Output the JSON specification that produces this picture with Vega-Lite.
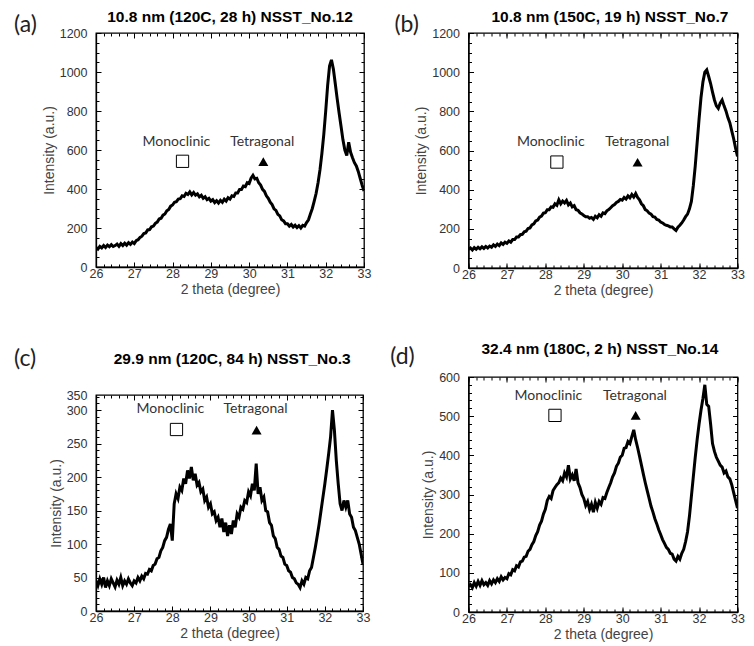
{
"$schema": "https://vega.github.io/schema/vega-lite/v6.json",
"background": "white",
"padding": {"left": 13, "top": 9, "right": 5, "bottom": 0},
"config": {
  "view": {"stroke": "black", "strokeWidth": 1.3},
  "axis": {"grid": false, "labelFlush": false, "domainColor": "black", "domainWidth": 1.3, "tickColor": "black", "tickWidth": 1, "labelFont": "Liberation Sans", "labelFontSize": 12.5, "labelColor": "#333", "titleFont": "Liberation Sans", "titleFontSize": 14, "titleFontWeight": "normal", "titleColor": "#444"}
},
"datasets": {
"a": [
{"t":26.00,"i":100},{"t":26.05,"i":92},{"t":26.10,"i":106},{"t":26.15,"i":98},{"t":26.20,"i":110},{"t":26.25,"i":100},{"t":26.30,"i":112},{"t":26.35,"i":104},{"t":26.40,"i":115},{"t":26.45,"i":105},
{"t":26.50,"i":110},{"t":26.55,"i":118},{"t":26.60,"i":106},{"t":26.65,"i":120},{"t":26.70,"i":110},{"t":26.75,"i":122},{"t":26.80,"i":112},{"t":26.85,"i":125},{"t":26.90,"i":116},{"t":26.95,"i":128},
{"t":27.00,"i":120},{"t":27.05,"i":135},{"t":27.10,"i":140},{"t":27.15,"i":152},{"t":27.20,"i":158},{"t":27.25,"i":172},{"t":27.30,"i":175},{"t":27.35,"i":190},{"t":27.40,"i":192},{"t":27.45,"i":206},
{"t":27.50,"i":210},{"t":27.55,"i":224},{"t":27.60,"i":230},{"t":27.65,"i":246},{"t":27.70,"i":250},{"t":27.75,"i":266},{"t":27.80,"i":272},{"t":27.85,"i":288},{"t":27.90,"i":295},{"t":27.95,"i":312},
{"t":28.00,"i":318},{"t":28.05,"i":332},{"t":28.10,"i":335},{"t":28.15,"i":348},{"t":28.20,"i":350},{"t":28.25,"i":365},{"t":28.30,"i":362},{"t":28.35,"i":378},{"t":28.40,"i":372},{"t":28.45,"i":385},
{"t":28.50,"i":370},{"t":28.55,"i":382},{"t":28.60,"i":368},{"t":28.65,"i":375},{"t":28.70,"i":360},{"t":28.75,"i":368},{"t":28.80,"i":352},{"t":28.85,"i":360},{"t":28.90,"i":345},{"t":28.95,"i":352},
{"t":29.00,"i":338},{"t":29.05,"i":345},{"t":29.10,"i":330},{"t":29.15,"i":340},{"t":29.20,"i":328},{"t":29.25,"i":342},{"t":29.30,"i":332},{"t":29.35,"i":348},{"t":29.40,"i":338},{"t":29.45,"i":355},
{"t":29.50,"i":348},{"t":29.55,"i":365},{"t":29.60,"i":362},{"t":29.65,"i":380},{"t":29.70,"i":380},{"t":29.75,"i":398},{"t":29.80,"i":398},{"t":29.85,"i":415},{"t":29.90,"i":412},{"t":29.95,"i":432},
{"t":30.00,"i":428},{"t":30.05,"i":455},{"t":30.10,"i":470},{"t":30.15,"i":452},{"t":30.20,"i":455},{"t":30.25,"i":432},{"t":30.30,"i":420},{"t":30.35,"i":398},{"t":30.40,"i":388},{"t":30.45,"i":365},
{"t":30.50,"i":352},{"t":30.55,"i":332},{"t":30.60,"i":320},{"t":30.65,"i":298},{"t":30.70,"i":290},{"t":30.75,"i":270},{"t":30.80,"i":262},{"t":30.85,"i":242},{"t":30.90,"i":236},{"t":30.95,"i":222},
{"t":31.00,"i":222},{"t":31.05,"i":210},{"t":31.10,"i":218},{"t":31.15,"i":205},{"t":31.20,"i":214},{"t":31.25,"i":202},{"t":31.30,"i":212},{"t":31.35,"i":200},{"t":31.40,"i":214},{"t":31.45,"i":210},
{"t":31.50,"i":228},{"t":31.55,"i":242},{"t":31.60,"i":272},{"t":31.65,"i":300},{"t":31.70,"i":338},{"t":31.75,"i":378},{"t":31.80,"i":432},{"t":31.85,"i":498},{"t":31.90,"i":582},{"t":31.95,"i":680},
{"t":32.00,"i":800},{"t":32.05,"i":930},{"t":32.10,"i":1030},{"t":32.15,"i":1062},{"t":32.20,"i":1015},{"t":32.25,"i":940},{"t":32.30,"i":862},{"t":32.35,"i":790},{"t":32.40,"i":722},{"t":32.45,"i":652},
{"t":32.50,"i":600},{"t":32.55,"i":572},{"t":32.60,"i":640},{"t":32.65,"i":588},{"t":32.70,"i":560},{"t":32.75,"i":535},{"t":32.80,"i":518},{"t":32.85,"i":490},{"t":32.90,"i":455},{"t":32.95,"i":420},
{"t":33.00,"i":390}
],
"b": [
{"t":26.00,"i":95},{"t":26.05,"i":102},{"t":26.10,"i":92},{"t":26.15,"i":104},{"t":26.20,"i":96},{"t":26.25,"i":106},{"t":26.30,"i":98},{"t":26.35,"i":108},{"t":26.40,"i":100},{"t":26.45,"i":110},
{"t":26.50,"i":102},{"t":26.55,"i":112},{"t":26.60,"i":106},{"t":26.65,"i":118},{"t":26.70,"i":110},{"t":26.75,"i":122},{"t":26.80,"i":114},{"t":26.85,"i":128},{"t":26.90,"i":120},{"t":26.95,"i":132},
{"t":27.00,"i":126},{"t":27.05,"i":138},{"t":27.10,"i":132},{"t":27.15,"i":145},{"t":27.20,"i":145},{"t":27.25,"i":158},{"t":27.30,"i":158},{"t":27.35,"i":170},{"t":27.40,"i":172},{"t":27.45,"i":185},
{"t":27.50,"i":188},{"t":27.55,"i":202},{"t":27.60,"i":205},{"t":27.65,"i":220},{"t":27.70,"i":225},{"t":27.75,"i":240},{"t":27.80,"i":245},{"t":27.85,"i":260},{"t":27.90,"i":265},{"t":27.95,"i":280},
{"t":28.00,"i":282},{"t":28.05,"i":298},{"t":28.10,"i":298},{"t":28.15,"i":312},{"t":28.20,"i":310},{"t":28.25,"i":328},{"t":28.30,"i":320},{"t":28.35,"i":348},{"t":28.40,"i":328},{"t":28.45,"i":342},
{"t":28.50,"i":332},{"t":28.55,"i":345},{"t":28.60,"i":322},{"t":28.65,"i":332},{"t":28.70,"i":312},{"t":28.75,"i":318},{"t":28.80,"i":298},{"t":28.85,"i":295},{"t":28.90,"i":282},{"t":28.95,"i":276},
{"t":29.00,"i":268},{"t":29.05,"i":262},{"t":29.10,"i":262},{"t":29.15,"i":254},{"t":29.20,"i":258},{"t":29.25,"i":248},{"t":29.30,"i":264},{"t":29.35,"i":256},{"t":29.40,"i":272},{"t":29.45,"i":264},
{"t":29.50,"i":282},{"t":29.55,"i":278},{"t":29.60,"i":292},{"t":29.65,"i":298},{"t":29.70,"i":308},{"t":29.75,"i":318},{"t":29.80,"i":324},{"t":29.85,"i":335},{"t":29.90,"i":340},{"t":29.95,"i":350},
{"t":30.00,"i":346},{"t":30.05,"i":360},{"t":30.10,"i":352},{"t":30.15,"i":368},{"t":30.20,"i":358},{"t":30.25,"i":375},{"t":30.30,"i":362},{"t":30.35,"i":380},{"t":30.40,"i":360},{"t":30.45,"i":348},
{"t":30.50,"i":328},{"t":30.55,"i":318},{"t":30.60,"i":298},{"t":30.65,"i":292},{"t":30.70,"i":280},{"t":30.75,"i":275},{"t":30.80,"i":262},{"t":30.85,"i":260},{"t":30.90,"i":248},{"t":30.95,"i":245},
{"t":31.00,"i":235},{"t":31.05,"i":230},{"t":31.10,"i":222},{"t":31.15,"i":218},{"t":31.20,"i":215},{"t":31.25,"i":210},{"t":31.30,"i":210},{"t":31.35,"i":200},{"t":31.40,"i":192},{"t":31.45,"i":208},
{"t":31.50,"i":218},{"t":31.55,"i":230},{"t":31.60,"i":245},{"t":31.65,"i":262},{"t":31.70,"i":275},{"t":31.75,"i":302},{"t":31.80,"i":340},{"t":31.85,"i":420},{"t":31.90,"i":520},{"t":31.95,"i":640},
{"t":32.00,"i":760},{"t":32.05,"i":870},{"t":32.10,"i":950},{"t":32.15,"i":1000},{"t":32.20,"i":1012},{"t":32.25,"i":978},{"t":32.30,"i":942},{"t":32.35,"i":898},{"t":32.40,"i":858},{"t":32.45,"i":828},
{"t":32.50,"i":815},{"t":32.55,"i":842},{"t":32.60,"i":858},{"t":32.65,"i":828},{"t":32.70,"i":802},{"t":32.75,"i":768},{"t":32.80,"i":742},{"t":32.85,"i":700},{"t":32.90,"i":660},{"t":32.95,"i":612},
{"t":33.00,"i":570}
],
"c": [
{"t":26.00,"i":45},{"t":26.05,"i":38},{"t":26.10,"i":48},{"t":26.15,"i":40},{"t":26.20,"i":50},{"t":26.25,"i":35},{"t":26.30,"i":45},{"t":26.35,"i":38},{"t":26.40,"i":48},{"t":26.45,"i":42},
{"t":26.50,"i":36},{"t":26.55,"i":46},{"t":26.60,"i":40},{"t":26.65,"i":50},{"t":26.70,"i":38},{"t":26.75,"i":45},{"t":26.80,"i":40},{"t":26.85,"i":48},{"t":26.90,"i":42},{"t":26.95,"i":38},
{"t":27.00,"i":45},{"t":27.05,"i":42},{"t":27.10,"i":50},{"t":27.15,"i":45},{"t":27.20,"i":52},{"t":27.25,"i":48},{"t":27.30,"i":56},{"t":27.35,"i":55},{"t":27.40,"i":62},{"t":27.45,"i":60},
{"t":27.50,"i":68},{"t":27.55,"i":70},{"t":27.60,"i":78},{"t":27.65,"i":80},{"t":27.70,"i":90},{"t":27.75,"i":95},{"t":27.80,"i":105},{"t":27.85,"i":110},{"t":27.90,"i":122},{"t":27.95,"i":130},
{"t":28.00,"i":105},{"t":28.05,"i":160},{"t":28.10,"i":175},{"t":28.15,"i":168},{"t":28.20,"i":185},{"t":28.25,"i":180},{"t":28.30,"i":198},{"t":28.35,"i":190},{"t":28.40,"i":210},{"t":28.45,"i":198},
{"t":28.50,"i":215},{"t":28.55,"i":195},{"t":28.60,"i":205},{"t":28.65,"i":188},{"t":28.70,"i":192},{"t":28.75,"i":178},{"t":28.80,"i":182},{"t":28.85,"i":165},{"t":28.90,"i":170},{"t":28.95,"i":155},
{"t":29.00,"i":160},{"t":29.05,"i":145},{"t":29.10,"i":148},{"t":29.15,"i":135},{"t":29.20,"i":140},{"t":29.25,"i":125},{"t":29.30,"i":138},{"t":29.35,"i":118},{"t":29.40,"i":132},{"t":29.45,"i":112},
{"t":29.50,"i":128},{"t":29.55,"i":115},{"t":29.60,"i":135},{"t":29.65,"i":125},{"t":29.70,"i":145},{"t":29.75,"i":140},{"t":29.80,"i":155},{"t":29.85,"i":152},{"t":29.90,"i":165},{"t":29.95,"i":162},
{"t":30.00,"i":178},{"t":30.05,"i":172},{"t":30.10,"i":190},{"t":30.15,"i":180},{"t":30.20,"i":220},{"t":30.25,"i":175},{"t":30.30,"i":185},{"t":30.35,"i":165},{"t":30.40,"i":170},{"t":30.45,"i":150},
{"t":30.50,"i":148},{"t":30.55,"i":132},{"t":30.60,"i":128},{"t":30.65,"i":112},{"t":30.70,"i":108},{"t":30.75,"i":95},{"t":30.80,"i":92},{"t":30.85,"i":82},{"t":30.90,"i":80},{"t":30.95,"i":70},
{"t":31.00,"i":68},{"t":31.05,"i":60},{"t":31.10,"i":58},{"t":31.15,"i":50},{"t":31.20,"i":48},{"t":31.25,"i":42},{"t":31.30,"i":40},{"t":31.35,"i":35},{"t":31.40,"i":45},{"t":31.45,"i":40},
{"t":31.50,"i":50},{"t":31.55,"i":48},{"t":31.60,"i":60},{"t":31.65,"i":65},{"t":31.70,"i":80},{"t":31.75,"i":95},{"t":31.80,"i":112},{"t":31.85,"i":130},{"t":31.90,"i":150},{"t":31.95,"i":170},
{"t":32.00,"i":190},{"t":32.05,"i":212},{"t":32.10,"i":235},{"t":32.15,"i":260},{"t":32.20,"i":300},{"t":32.25,"i":270},{"t":32.30,"i":225},{"t":32.35,"i":190},{"t":32.40,"i":160},{"t":32.45,"i":150},
{"t":32.50,"i":165},{"t":32.55,"i":155},{"t":32.60,"i":165},{"t":32.65,"i":145},{"t":32.70,"i":140},{"t":32.75,"i":125},{"t":32.80,"i":120},{"t":32.85,"i":110},{"t":32.90,"i":100},{"t":32.95,"i":85},
{"t":33.00,"i":70}
],
"d": [
{"t":26.00,"i":65},{"t":26.05,"i":70},{"t":26.10,"i":62},{"t":26.15,"i":75},{"t":26.20,"i":66},{"t":26.25,"i":78},{"t":26.30,"i":68},{"t":26.35,"i":80},{"t":26.40,"i":70},{"t":26.45,"i":75},
{"t":26.50,"i":68},{"t":26.55,"i":80},{"t":26.60,"i":72},{"t":26.65,"i":82},{"t":26.70,"i":75},{"t":26.75,"i":85},{"t":26.80,"i":78},{"t":26.85,"i":90},{"t":26.90,"i":82},{"t":26.95,"i":88},
{"t":27.00,"i":85},{"t":27.05,"i":98},{"t":27.10,"i":95},{"t":27.15,"i":108},{"t":27.20,"i":105},{"t":27.25,"i":118},{"t":27.30,"i":115},{"t":27.35,"i":128},{"t":27.40,"i":130},{"t":27.45,"i":140},
{"t":27.50,"i":142},{"t":27.55,"i":155},{"t":27.60,"i":160},{"t":27.65,"i":172},{"t":27.70,"i":180},{"t":27.75,"i":195},{"t":27.80,"i":205},{"t":27.85,"i":222},{"t":27.90,"i":232},{"t":27.95,"i":250},
{"t":28.00,"i":262},{"t":28.05,"i":285},{"t":28.10,"i":295},{"t":28.15,"i":290},{"t":28.20,"i":310},{"t":28.25,"i":318},{"t":28.30,"i":325},{"t":28.35,"i":330},{"t":28.40,"i":342},{"t":28.45,"i":335},
{"t":28.50,"i":355},{"t":28.55,"i":345},{"t":28.60,"i":375},{"t":28.65,"i":340},{"t":28.70,"i":350},{"t":28.75,"i":335},{"t":28.80,"i":365},{"t":28.85,"i":330},{"t":28.90,"i":318},{"t":28.95,"i":300},
{"t":29.00,"i":290},{"t":29.05,"i":272},{"t":29.10,"i":282},{"t":29.15,"i":262},{"t":29.20,"i":275},{"t":29.25,"i":255},{"t":29.30,"i":280},{"t":29.35,"i":265},{"t":29.40,"i":282},{"t":29.45,"i":275},
{"t":29.50,"i":292},{"t":29.55,"i":290},{"t":29.60,"i":305},{"t":29.65,"i":318},{"t":29.70,"i":330},{"t":29.75,"i":345},{"t":29.80,"i":355},{"t":29.85,"i":372},{"t":29.90,"i":380},{"t":29.95,"i":395},
{"t":30.00,"i":400},{"t":30.05,"i":418},{"t":30.10,"i":420},{"t":30.15,"i":435},{"t":30.20,"i":430},{"t":30.25,"i":448},{"t":30.30,"i":465},{"t":30.35,"i":440},{"t":30.40,"i":420},{"t":30.45,"i":398},
{"t":30.50,"i":375},{"t":30.55,"i":352},{"t":30.60,"i":330},{"t":30.65,"i":310},{"t":30.70,"i":290},{"t":30.75,"i":270},{"t":30.80,"i":255},{"t":30.85,"i":238},{"t":30.90,"i":225},{"t":30.95,"i":210},
{"t":31.00,"i":198},{"t":31.05,"i":185},{"t":31.10,"i":175},{"t":31.15,"i":165},{"t":31.20,"i":160},{"t":31.25,"i":150},{"t":31.30,"i":148},{"t":31.35,"i":135},{"t":31.40,"i":130},{"t":31.45,"i":142},
{"t":31.50,"i":135},{"t":31.55,"i":150},{"t":31.60,"i":160},{"t":31.65,"i":180},{"t":31.70,"i":205},{"t":31.75,"i":245},{"t":31.80,"i":295},{"t":31.85,"i":345},{"t":31.90,"i":395},{"t":31.95,"i":440},
{"t":32.00,"i":480},{"t":32.05,"i":515},{"t":32.10,"i":545},{"t":32.15,"i":580},{"t":32.20,"i":530},{"t":32.25,"i":525},{"t":32.30,"i":480},{"t":32.35,"i":430},{"t":32.40,"i":410},{"t":32.45,"i":395},
{"t":32.50,"i":385},{"t":32.55,"i":375},{"t":32.60,"i":370},{"t":32.65,"i":355},{"t":32.70,"i":360},{"t":32.75,"i":345},{"t":32.80,"i":340},{"t":32.85,"i":325},{"t":32.90,"i":305},{"t":32.95,"i":285},
{"t":33.00,"i":265}
],
"ann": [
{"p":"a","k":"sq","t":28.26,"i":542},{"p":"a","k":"tri","t":30.37,"i":540},{"p":"a","k":"tx","label":"Monoclinic","t":28.10,"i":643},{"p":"a","k":"tx","label":"Tetragonal","t":30.34,"i":643},{"p":"a","k":"pl","label":"(a)","t":24.16,"i":1241},{"p":"a","k":"ti","label":"10.8 nm (120C, 28 h) NSST_No.12","t":29.5,"i":1282},
{"p":"b","k":"sq","t":28.30,"i":541},{"p":"b","k":"tri","t":30.40,"i":540},{"p":"b","k":"tx","label":"Monoclinic","t":28.14,"i":642},{"p":"b","k":"tx","label":"Tetragonal","t":30.39,"i":642},{"p":"b","k":"pl","label":"(b)","t":24.39,"i":1241},{"p":"b","k":"ti","label":"10.8 nm (150C, 19 h) NSST_No.7","t":29.68,"i":1282},
{"p":"c","k":"sq","t":28.11,"i":271},{"p":"c","k":"tri","t":30.21,"i":270},{"p":"c","k":"tx","label":"Monoclinic","t":27.95,"i":301},{"p":"c","k":"tx","label":"Tetragonal","t":30.18,"i":301},{"p":"c","k":"pl","label":"(c)","t":24.14,"i":376},{"p":"c","k":"ti","label":"29.9 nm (120C, 84 h) NSST_No.3","t":29.57,"i":376},
{"p":"d","k":"sq","t":28.25,"i":502},{"p":"d","k":"tri","t":30.35,"i":502},{"p":"d","k":"tx","label":"Monoclinic","t":28.08,"i":551},{"p":"d","k":"tx","label":"Tetragonal","t":30.33,"i":551},{"p":"d","k":"pl","label":"(d)","t":24.28,"i":651},{"p":"d","k":"ti","label":"32.4 nm (180C, 2 h) NSST_No.14","t":29.42,"i":672}
]
},
"hconcat": [
{"vconcat": [
{
"width": 268, "height": 234,
"resolve": {"axis": {"x": "independent", "y": "independent"}},
"layer": [
{"data": {"name": "a"}, "mark": {"type": "line", "color": "black", "strokeWidth": 3, "clip": true},
 "encoding": {
  "x": {"field": "t", "type": "quantitative", "scale": {"domain": [26, 33], "nice": false, "zero": false}, "axis": {"orient": "bottom", "values": [26,27,28,29,30,31,32,33], "format": "d", "ticks": false, "labelPadding": 0, "title": "2 theta (degree)", "titlePadding": 3}},
  "y": {"field": "i", "type": "quantitative", "scale": {"domain": [0, 1200], "nice": false}, "axis": {"orient": "left", "values": [0,200,400,600,800,1000,1200], "format": "d", "ticks": false, "labelPadding": 9, "title": "Intensity (a.u.)", "titlePadding": 3}}}},
{"data": {"name": "ann"}, "transform": [{"filter": "datum.p == 'a' && datum.k == 'sq'"}], "mark": {"type": "point", "shape": "square", "filled": false, "stroke": "black", "strokeWidth": 1, "size": 150, "opacity": 1},
 "encoding": {
  "x": {"field": "t", "type": "quantitative", "scale": {"domain": [26, 33], "nice": false, "zero": false}, "axis": {"orient": "bottom", "offset": -234, "labelOpacity": 0, "domain": false, "title": null}},
  "y": {"field": "i", "type": "quantitative", "scale": {"domain": [0, 1200], "nice": false}, "axis": {"orient": "left", "offset": -268, "labelOpacity": 0, "domain": false, "title": null}}}},
{"data": {"name": "ann"}, "transform": [{"filter": "datum.p == 'a' && datum.k == 'tri'"}], "mark": {"type": "point", "shape": "triangle-up", "filled": true, "color": "black", "size": 100, "opacity": 1},
 "encoding": {
  "x": {"field": "t", "type": "quantitative", "scale": {"domain": [26, 33], "nice": false, "zero": false}, "axis": {"orient": "top", "offset": -234, "labelOpacity": 0, "domain": false, "title": null}},
  "y": {"field": "i", "type": "quantitative", "scale": {"domain": [0, 1200], "nice": false}, "axis": {"orient": "right", "offset": -268, "labelOpacity": 0, "domain": false, "title": null}}}},
{"data": {"name": "ann"}, "transform": [{"filter": "datum.p == 'a' && datum.k == 'tx'"}], "mark": {"type": "text", "font": "Lato", "fontSize": 14, "color": "#333", "baseline": "middle", "align": "center"},
 "encoding": {
  "text": {"field": "label"},
  "x": {"field": "t", "type": "quantitative", "scale": {"domain": [26, 33], "nice": false, "zero": false}, "axis": {"orient": "bottom", "offset": -234, "tickCount": 35, "tickSize": 3, "labelOpacity": 0, "domain": false, "title": null}},
  "y": {"field": "i", "type": "quantitative", "scale": {"domain": [0, 1200], "nice": false}, "axis": {"orient": "left", "offset": -268, "tickCount": 24, "tickSize": 3, "labelOpacity": 0, "domain": false, "title": null}}}},
{"data": {"name": "ann"}, "transform": [{"filter": "datum.p == 'a' && datum.k == 'pl'"}], "mark": {"type": "text", "font": "Lato", "fontSize": 23, "color": "#222", "baseline": "middle", "align": "center"},
 "encoding": {
  "text": {"field": "label"},
  "x": {"field": "t", "type": "quantitative", "scale": {"domain": [26, 33], "nice": false, "zero": false}, "axis": {"orient": "top", "offset": -234, "tickCount": 35, "tickSize": 3, "labelOpacity": 0, "domain": false, "title": null}},
  "y": {"field": "i", "type": "quantitative", "scale": {"domain": [0, 1200], "nice": false}, "axis": {"orient": "right", "offset": -268, "tickCount": 24, "tickSize": 3, "labelOpacity": 0, "domain": false, "title": null}}}},
{"data": {"name": "ann"}, "transform": [{"filter": "datum.p == 'a' && datum.k == 'ti'"}], "mark": {"type": "text", "font": "Liberation Sans", "fontSize": 15.5, "fontWeight": "bold", "color": "black", "baseline": "middle", "align": "center"},
 "encoding": {
  "text": {"field": "label"},
  "x": {"field": "t", "type": "quantitative", "scale": {"domain": [26, 33], "nice": false, "zero": false}, "axis": null},
  "y": {"field": "i", "type": "quantitative", "scale": {"domain": [0, 1200], "nice": false}, "axis": null}}}
]
},
{
"width": 267, "height": 216,
"resolve": {"axis": {"x": "independent", "y": "independent"}},
"layer": [
{"data": {"name": "c"}, "mark": {"type": "line", "color": "black", "strokeWidth": 3, "clip": true},
 "encoding": {
  "x": {"field": "t", "type": "quantitative", "scale": {"domain": [26, 33], "nice": false, "zero": false}, "axis": {"orient": "bottom", "values": [26,27,28,29,30,31,32,33], "format": "d", "ticks": false, "labelPadding": 0, "title": "2 theta (degree)", "titlePadding": 3}},
  "y": {"field": "i", "type": "quantitative", "scale": {"domain": [0, 322.5], "nice": false}, "axis": {"orient": "left", "values": [0,50,100,150,200,250,300,322.5], "labelExpr": "datum.value > 310 ? '350' : format(datum.value, 'd')", "ticks": false, "labelPadding": 9, "title": "Intensity (a.u.)", "titlePadding": 3}}}},
{"data": {"name": "ann"}, "transform": [{"filter": "datum.p == 'c' && datum.k == 'sq'"}], "mark": {"type": "point", "shape": "square", "filled": false, "stroke": "black", "strokeWidth": 1, "size": 150, "opacity": 1},
 "encoding": {
  "x": {"field": "t", "type": "quantitative", "scale": {"domain": [26, 33], "nice": false, "zero": false}, "axis": {"orient": "bottom", "offset": -216, "labelOpacity": 0, "domain": false, "title": null}},
  "y": {"field": "i", "type": "quantitative", "scale": {"domain": [0, 322.5], "nice": false}, "axis": {"orient": "left", "offset": -267, "labelOpacity": 0, "domain": false, "title": null}}}},
{"data": {"name": "ann"}, "transform": [{"filter": "datum.p == 'c' && datum.k == 'tri'"}], "mark": {"type": "point", "shape": "triangle-up", "filled": true, "color": "black", "size": 100, "opacity": 1},
 "encoding": {
  "x": {"field": "t", "type": "quantitative", "scale": {"domain": [26, 33], "nice": false, "zero": false}, "axis": {"orient": "top", "offset": -216, "labelOpacity": 0, "domain": false, "title": null}},
  "y": {"field": "i", "type": "quantitative", "scale": {"domain": [0, 322.5], "nice": false}, "axis": {"orient": "right", "offset": -267, "labelOpacity": 0, "domain": false, "title": null}}}},
{"data": {"name": "ann"}, "transform": [{"filter": "datum.p == 'c' && datum.k == 'tx'"}], "mark": {"type": "text", "font": "Lato", "fontSize": 14, "color": "#333", "baseline": "middle", "align": "center"},
 "encoding": {
  "text": {"field": "label"},
  "x": {"field": "t", "type": "quantitative", "scale": {"domain": [26, 33], "nice": false, "zero": false}, "axis": {"orient": "bottom", "offset": -216, "tickCount": 35, "tickSize": 3, "labelOpacity": 0, "domain": false, "title": null}},
  "y": {"field": "i", "type": "quantitative", "scale": {"domain": [0, 322.5], "nice": false}, "axis": {"orient": "left", "offset": -267, "tickCount": 32, "tickSize": 3, "labelOpacity": 0, "domain": false, "title": null}}}},
{"data": {"name": "ann"}, "transform": [{"filter": "datum.p == 'c' && datum.k == 'pl'"}], "mark": {"type": "text", "font": "Lato", "fontSize": 23, "color": "#222", "baseline": "middle", "align": "center"},
 "encoding": {
  "text": {"field": "label"},
  "x": {"field": "t", "type": "quantitative", "scale": {"domain": [26, 33], "nice": false, "zero": false}, "axis": {"orient": "top", "offset": -216, "tickCount": 35, "tickSize": 3, "labelOpacity": 0, "domain": false, "title": null}},
  "y": {"field": "i", "type": "quantitative", "scale": {"domain": [0, 322.5], "nice": false}, "axis": {"orient": "right", "offset": -267, "tickCount": 32, "tickSize": 3, "labelOpacity": 0, "domain": false, "title": null}}}},
{"data": {"name": "ann"}, "transform": [{"filter": "datum.p == 'c' && datum.k == 'ti'"}], "mark": {"type": "text", "font": "Liberation Sans", "fontSize": 15.5, "fontWeight": "bold", "color": "black", "baseline": "middle", "align": "center"},
 "encoding": {
  "text": {"field": "label"},
  "x": {"field": "t", "type": "quantitative", "scale": {"domain": [26, 33], "nice": false, "zero": false}, "axis": null},
  "y": {"field": "i", "type": "quantitative", "scale": {"domain": [0, 322.5], "nice": false}, "axis": null}}}
]
}
], "spacing": 49},
{"vconcat": [
{
"width": 269, "height": 235,
"resolve": {"axis": {"x": "independent", "y": "independent"}},
"layer": [
{"data": {"name": "b"}, "mark": {"type": "line", "color": "black", "strokeWidth": 3, "clip": true},
 "encoding": {
  "x": {"field": "t", "type": "quantitative", "scale": {"domain": [26, 33], "nice": false, "zero": false}, "axis": {"orient": "bottom", "values": [26,27,28,29,30,31,32,33], "format": "d", "ticks": false, "labelPadding": 0, "title": "2 theta (degree)", "titlePadding": 3}},
  "y": {"field": "i", "type": "quantitative", "scale": {"domain": [0, 1200], "nice": false}, "axis": {"orient": "left", "values": [0,200,400,600,800,1000,1200], "format": "d", "ticks": false, "labelPadding": 9, "title": "Intensity (a.u.)", "titlePadding": 3}}}},
{"data": {"name": "ann"}, "transform": [{"filter": "datum.p == 'b' && datum.k == 'sq'"}], "mark": {"type": "point", "shape": "square", "filled": false, "stroke": "black", "strokeWidth": 1, "size": 150, "opacity": 1},
 "encoding": {
  "x": {"field": "t", "type": "quantitative", "scale": {"domain": [26, 33], "nice": false, "zero": false}, "axis": {"orient": "bottom", "offset": -235, "labelOpacity": 0, "domain": false, "title": null}},
  "y": {"field": "i", "type": "quantitative", "scale": {"domain": [0, 1200], "nice": false}, "axis": {"orient": "left", "offset": -269, "labelOpacity": 0, "domain": false, "title": null}}}},
{"data": {"name": "ann"}, "transform": [{"filter": "datum.p == 'b' && datum.k == 'tri'"}], "mark": {"type": "point", "shape": "triangle-up", "filled": true, "color": "black", "size": 100, "opacity": 1},
 "encoding": {
  "x": {"field": "t", "type": "quantitative", "scale": {"domain": [26, 33], "nice": false, "zero": false}, "axis": {"orient": "top", "offset": -235, "labelOpacity": 0, "domain": false, "title": null}},
  "y": {"field": "i", "type": "quantitative", "scale": {"domain": [0, 1200], "nice": false}, "axis": {"orient": "right", "offset": -269, "labelOpacity": 0, "domain": false, "title": null}}}},
{"data": {"name": "ann"}, "transform": [{"filter": "datum.p == 'b' && datum.k == 'tx'"}], "mark": {"type": "text", "font": "Lato", "fontSize": 14, "color": "#333", "baseline": "middle", "align": "center"},
 "encoding": {
  "text": {"field": "label"},
  "x": {"field": "t", "type": "quantitative", "scale": {"domain": [26, 33], "nice": false, "zero": false}, "axis": {"orient": "bottom", "offset": -235, "tickCount": 35, "tickSize": 3, "labelOpacity": 0, "domain": false, "title": null}},
  "y": {"field": "i", "type": "quantitative", "scale": {"domain": [0, 1200], "nice": false}, "axis": {"orient": "left", "offset": -269, "tickCount": 24, "tickSize": 3, "labelOpacity": 0, "domain": false, "title": null}}}},
{"data": {"name": "ann"}, "transform": [{"filter": "datum.p == 'b' && datum.k == 'pl'"}], "mark": {"type": "text", "font": "Lato", "fontSize": 23, "color": "#222", "baseline": "middle", "align": "center"},
 "encoding": {
  "text": {"field": "label"},
  "x": {"field": "t", "type": "quantitative", "scale": {"domain": [26, 33], "nice": false, "zero": false}, "axis": {"orient": "top", "offset": -235, "tickCount": 35, "tickSize": 3, "labelOpacity": 0, "domain": false, "title": null}},
  "y": {"field": "i", "type": "quantitative", "scale": {"domain": [0, 1200], "nice": false}, "axis": {"orient": "right", "offset": -269, "tickCount": 24, "tickSize": 3, "labelOpacity": 0, "domain": false, "title": null}}}},
{"data": {"name": "ann"}, "transform": [{"filter": "datum.p == 'b' && datum.k == 'ti'"}], "mark": {"type": "text", "font": "Liberation Sans", "fontSize": 15.5, "fontWeight": "bold", "color": "black", "baseline": "middle", "align": "center"},
 "encoding": {
  "text": {"field": "label"},
  "x": {"field": "t", "type": "quantitative", "scale": {"domain": [26, 33], "nice": false, "zero": false}, "axis": null},
  "y": {"field": "i", "type": "quantitative", "scale": {"domain": [0, 1200], "nice": false}, "axis": null}}}
]
},
{
"width": 269, "height": 235,
"resolve": {"axis": {"x": "independent", "y": "independent"}},
"layer": [
{"data": {"name": "d"}, "mark": {"type": "line", "color": "black", "strokeWidth": 3, "clip": true},
 "encoding": {
  "x": {"field": "t", "type": "quantitative", "scale": {"domain": [26, 33], "nice": false, "zero": false}, "axis": {"orient": "bottom", "values": [26,27,28,29,30,31,32,33], "format": "d", "ticks": false, "labelPadding": 0, "title": "2 theta (degree)", "titlePadding": 3}},
  "y": {"field": "i", "type": "quantitative", "scale": {"domain": [0, 600], "nice": false}, "axis": {"orient": "left", "values": [0,100,200,300,400,500,600], "format": "d", "ticks": false, "labelPadding": 9, "title": "Intensity (a.u.)", "titlePadding": 3}}}},
{"data": {"name": "ann"}, "transform": [{"filter": "datum.p == 'd' && datum.k == 'sq'"}], "mark": {"type": "point", "shape": "square", "filled": false, "stroke": "black", "strokeWidth": 1, "size": 150, "opacity": 1},
 "encoding": {
  "x": {"field": "t", "type": "quantitative", "scale": {"domain": [26, 33], "nice": false, "zero": false}, "axis": {"orient": "bottom", "offset": -235, "labelOpacity": 0, "domain": false, "title": null}},
  "y": {"field": "i", "type": "quantitative", "scale": {"domain": [0, 600], "nice": false}, "axis": {"orient": "left", "offset": -269, "labelOpacity": 0, "domain": false, "title": null}}}},
{"data": {"name": "ann"}, "transform": [{"filter": "datum.p == 'd' && datum.k == 'tri'"}], "mark": {"type": "point", "shape": "triangle-up", "filled": true, "color": "black", "size": 100, "opacity": 1},
 "encoding": {
  "x": {"field": "t", "type": "quantitative", "scale": {"domain": [26, 33], "nice": false, "zero": false}, "axis": {"orient": "top", "offset": -235, "labelOpacity": 0, "domain": false, "title": null}},
  "y": {"field": "i", "type": "quantitative", "scale": {"domain": [0, 600], "nice": false}, "axis": {"orient": "right", "offset": -269, "labelOpacity": 0, "domain": false, "title": null}}}},
{"data": {"name": "ann"}, "transform": [{"filter": "datum.p == 'd' && datum.k == 'tx'"}], "mark": {"type": "text", "font": "Lato", "fontSize": 14, "color": "#333", "baseline": "middle", "align": "center"},
 "encoding": {
  "text": {"field": "label"},
  "x": {"field": "t", "type": "quantitative", "scale": {"domain": [26, 33], "nice": false, "zero": false}, "axis": {"orient": "bottom", "offset": -235, "tickCount": 35, "tickSize": 3, "labelOpacity": 0, "domain": false, "title": null}},
  "y": {"field": "i", "type": "quantitative", "scale": {"domain": [0, 600], "nice": false}, "axis": {"orient": "left", "offset": -269, "tickCount": 30, "tickSize": 3, "labelOpacity": 0, "domain": false, "title": null}}}},
{"data": {"name": "ann"}, "transform": [{"filter": "datum.p == 'd' && datum.k == 'pl'"}], "mark": {"type": "text", "font": "Lato", "fontSize": 23, "color": "#222", "baseline": "middle", "align": "center"},
 "encoding": {
  "text": {"field": "label"},
  "x": {"field": "t", "type": "quantitative", "scale": {"domain": [26, 33], "nice": false, "zero": false}, "axis": {"orient": "top", "offset": -235, "tickCount": 35, "tickSize": 3, "labelOpacity": 0, "domain": false, "title": null}},
  "y": {"field": "i", "type": "quantitative", "scale": {"domain": [0, 600], "nice": false}, "axis": {"orient": "right", "offset": -269, "tickCount": 30, "tickSize": 3, "labelOpacity": 0, "domain": false, "title": null}}}},
{"data": {"name": "ann"}, "transform": [{"filter": "datum.p == 'd' && datum.k == 'ti'"}], "mark": {"type": "text", "font": "Liberation Sans", "fontSize": 15.5, "fontWeight": "bold", "color": "black", "baseline": "middle", "align": "center"},
 "encoding": {
  "text": {"field": "label"},
  "x": {"field": "t", "type": "quantitative", "scale": {"domain": [26, 33], "nice": false, "zero": false}, "axis": null},
  "y": {"field": "i", "type": "quantitative", "scale": {"domain": [0, 600], "nice": false}, "axis": null}}}
]
}
], "spacing": 42}
], "spacing": 16.5
}
